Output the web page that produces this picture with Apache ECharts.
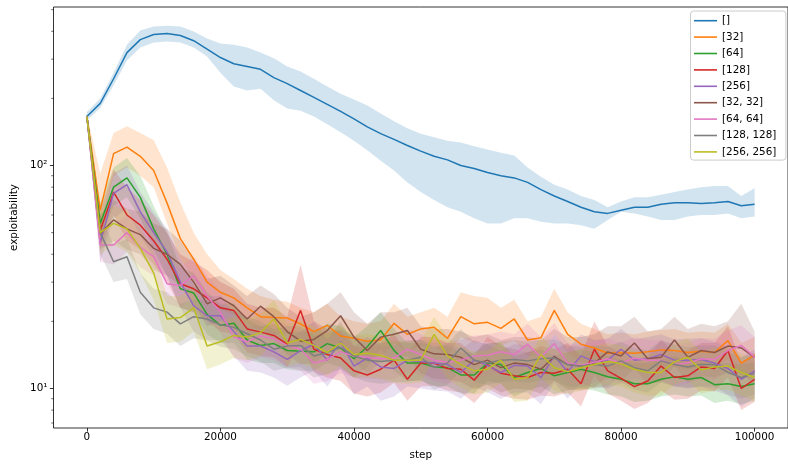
<!DOCTYPE html>
<html><head><meta charset="utf-8">
<script src="https://cdn.jsdelivr.net/npm/echarts@6/dist/echarts.min.js"></script>
<style>html,body{margin:0;padding:0;background:#fff}#c{width:788px;height:466px}</style>
</head><body><div id="c"></div>
<script>
const steps = [0,2000,4000,6000,8000,10000,12000,14000,16000,18000,20000,22000,24000,26000,28000,30000,32000,34000,36000,38000,40000,42000,44000,46000,48000,50000,52000,54000,56000,58000,60000,62000,64000,66000,68000,70000,72000,74000,76000,78000,80000,82000,84000,86000,88000,90000,92000,94000,96000,98000,100000];
const xTicks = [0,20000,40000,60000,80000,100000];
const yMajor = [10,100];
const yMinor = [7,8,9,20,30,40,50,60,70,80,90,200,300,400,500];
const names = ['[]','[32]','[64]','[128]','[256]','[32, 32]','[64, 64]','[128, 128]','[256, 256]'];
const colors = ['#1f77b4','#ff7f0e','#2ca02c','#d62728','#9467bd','#8c564b','#e377c2','#7f7f7f','#bcbd22'];

const meanE = [166,190,245,321,367,387,391,383,363,333,305,286,278,270,248,233,217,202,188,175,162,149,139,131,123,116,110,106,100,97,93,90,88,84,78,73,69,65,62,61,63,65,65,67,68,68,67.5,68,69,66,67];
const hiE = [174,200,261,348,403,420,424,420,399,371,353,348,338,321,303,278,264,245,226,210,198,186,171,158,147,139,134,129,127,122,118,114,111,98,89,82,78,73,70,65,69,72,72,74,76,78,80,81,81,73,79];
const loE = [159,181,229,296,338,356,360,356,338,308,261,226,217,221,196,180,176,166,153,141,129,117,105,95,84,76,70,65,62,58,55,55,58,58,56,55,55,54,52,57,62,61,59,57,57,59,60,60,61,58,59];

const mean32 = [166,63,113,121,110,95,68,47,38,30,27,25.5,23,21,20.8,20.7,19.5,18,19.2,17.2,16.8,16.3,16.5,19.6,17.5,18.5,18.8,16.8,21,19.5,19.8,18.6,20.5,16.5,16.9,22.4,17.5,15.8,15.2,14.4,14.5,14.4,14.6,14.9,14.8,14.5,14.7,14.5,16.4,13,14.1];
const hi32 = [170,92,140,150,140,130,98,68,50,40,34,31,28,26,25,24.5,23,22,24,21,20,19.5,20,24,21,22,23,21,27,26,25.5,23,25,20,21,28,22,19.5,18.5,17.5,17.8,17.5,18,18.3,18.5,17.8,18,17.8,19.5,16,17];
const lo32 = [162,52,90,98,90,80,55,38,31,25,22.5,21.5,19.5,18,17.5,17.5,16.5,15.2,16,14.5,14.2,13.8,14,16,14.8,15.5,15.5,14,17,16,16.2,15.5,16.5,14,14.2,17.5,14.5,13.2,12.8,12.2,12.3,12.2,12.3,12.5,12.5,12.2,12.5,12.2,13.5,11,11.8];

const mean64 = [166,55,80,88,72,52,40,28,26.8,21.5,19.2,19.6,16.5,15.6,15.9,14.8,14.7,14.6,15.9,15.2,13.6,15.4,18.2,14.8,13,13,12.5,12.4,11.5,11.5,13,12.8,11.2,11.8,12.3,11.4,11.8,12.2,11.8,11.3,11,10.5,10.5,11,11.3,11,11.2,10.4,10.5,10.2,10.5];
const hi64 = [170,68,98,108,90,66,50,35,33,27,24,24,20.5,19,19.5,18,18,18,19.5,19,17,19,22,18.5,16,16,15.5,15.5,14.5,14.5,16,16,14,14.5,15,14,14.5,15,14.5,14,13.5,13,13,13.5,14,13.5,13.8,13,13,12.8,13];
const lo64 = [162,46,66,72,58,42,32,23,22,17.5,16,16,13.5,13,13,12.2,12,12,13,12.5,11.2,12.5,15,12,10.8,10.8,10.3,10.2,9.5,9.5,10.8,10.5,9.2,9.8,10.2,9.4,9.8,10,9.8,9.4,9.2,8.7,8.8,9.2,9.4,9.2,9.3,8.6,8.8,8.5,8.8];

const mean128 = [166,51,76,60,54,46,38,29.5,28,25.5,23,22.4,18.5,17.9,17.3,15.8,22.4,15,14.2,13.7,12,11.5,12.2,13.4,11,13,13,12.3,12.2,10.9,12.8,11.7,11.4,11.2,11.8,11.7,12.2,10.5,15,12,11.1,10.2,10.8,12.6,11.2,11.4,12.5,12.3,14.8,10,11];
const hi128 = [170,62,96,80,70,60,50,40,37,34,30,28,24,23,23,21,36,20,18.5,18,15.5,15,16,17.5,14.5,17,17,16,16,14,17,15.5,15,14.5,15.5,15,16,14,20,15.5,14.5,13.5,14,16.5,14.5,14.8,16,16,19,13,14.5];
const lo128 = [162,42,60,46,42,36,30,23,22,20,18,17.5,14.5,14,13.8,12.5,16,11.8,11.2,10.8,9.5,9.2,9.6,10.6,8.8,10.2,10.3,9.8,9.6,8.6,10,9.3,9,8.9,9.3,9.2,9.6,8.3,11.5,9.5,8.8,8.1,8.6,9.8,8.9,9,9.8,9.7,11.2,8,8.7];

const mean256 = [166,45,75,82,62,50,41,30,23.5,21.2,21.2,18,15.5,15.5,14.6,13.5,14.8,15.8,13.4,16.2,12.6,13.7,12.5,12.3,13.4,13.2,13,12.8,11.8,13.4,12.7,11.8,12.7,12.6,11.2,14,11.9,14,13.2,13.4,15,13.4,13.6,14.2,13.4,13.4,13.5,13,12.3,11,12];
const hi256 = [170,55,92,100,76,62,52,38,29,26,26,22,19,19,18,16.5,18,20,16.5,20,15.5,17,15.5,15.5,16.5,16.5,16,16,15,16.5,15.8,14.8,15.8,15.6,14,17.5,15,17.5,16.5,16.7,18.5,16.6,17,17.5,16.6,16.7,16.8,16.2,15.3,13.8,15];
const lo256 = [162,37,58,64,48,39,32,23,18,16.5,16.5,14,12,11.8,11.2,10.3,11.2,12,10.2,12.3,9.4,10.2,8.8,9.2,10.2,10,9.8,9.7,9,10.2,9.6,9,9.6,9.6,8.5,10.6,9,10.6,10,10.2,11.4,10.2,10.4,10.8,10.2,10.1,10.2,9.8,9.3,8.3,9.1];

const mean32x32 = [166,49.5,57,52,49,42.5,40,36,30,24,25.5,23.5,20.5,23.4,21,18,16.3,16.6,18.2,21.2,17,14.8,17,17.5,18.2,15,14.3,14.2,13.8,12.8,13.4,12.4,13,12.8,12.2,13.9,12.8,12.6,13,14.6,14,16,13.6,13.8,16.5,13.8,14.8,14.5,15.5,15.2,13.8];
const hi32x32 = [170,60,70,64,62,55,52,46,38,31,32,29,26,29,26.5,23,21,22,24,27,22,19.5,22,22,23,19,18.5,18.5,18,17,17.5,16.5,17,17,16.5,18.5,17,17,17.5,19,19,21,18,18.5,21,18.5,19.5,19,20,24,18];
const lo32x32 = [162,42,46,42,40,34,32,29,24,19,20,18.5,16.3,18.5,16.5,14.2,12.8,13,14.3,16.5,13.2,11.6,13.2,13.7,14,11.7,11.1,11,10.7,9.9,10.4,9.6,10,9.9,9.5,10.8,9.9,9.8,10.1,11.3,10.8,12.3,10.5,10.7,12.6,10.6,11.4,11.2,11.8,11.6,10.5];

const mean64x64 = [166,44,44,50,43,39,29.5,29,32,26,22,17,16.2,17.2,16.7,15.6,15,13,13.5,14.6,14,13.8,13.6,13.7,15,14.2,13.4,13.1,13.4,14,14.1,14.6,14.2,15.8,13.8,15.9,13,12.7,13.1,13.6,13,13.7,13.4,13.4,12.8,13,13.6,13.5,14.8,15.6,13.8];
const hi64x64 = [170,52,54,60,52,47,36,35,39,32,27,21,20,21,20.5,19.2,18.5,16.2,16.7,18,17.3,17,16.8,17,18.5,17.5,16.5,16.2,16.5,17.3,17.4,18,17.5,19.5,17,19.6,16,15.7,16.2,16.8,16,17,16.5,16.5,15.8,16,16.8,16.7,18.2,19.2,17];
const lo64x64 = [162,37,36,41,35,32,24,23,26,21,17.8,13.7,13,13.8,13.4,12.5,12,10.5,10.8,11.7,11.2,11.1,11,11,12,11.4,10.8,10.5,10.8,11.3,11.4,11.8,11.4,12.7,11.1,12.8,10.5,10.3,10.6,11,10.5,11.1,10.8,10.8,10.3,10.5,11,10.9,12,12.6,11.1];

const mean128x128 = [166,50,37,39,27,23,22,19.5,21,20.5,19.3,18.8,17.6,16.5,15,15.5,15.6,14,14.5,15.3,14,13.4,13.2,13.4,13.4,13.8,12.4,13,15.2,13.4,13,13.4,13.5,13.3,13.6,13.7,12.8,12.6,12.8,12.6,13.3,12.4,12,13.3,12.8,12.5,12.8,12.8,11.8,11.2,11.7];
const hi128x128 = [170,60,44,47,33,28,27,24,25,25,23.5,22.5,21,20,18.5,19,19,17.2,17.6,18.5,17,16.3,16,16.3,16.2,16.6,15.2,15.8,18.5,16.2,15.8,16.3,16.5,16.2,16.5,16.6,15.6,15.4,15.6,15.4,16.2,15.2,14.8,16.4,15.7,15.3,15.6,15.6,14.5,13.8,14.4];
const lo128x128 = [162,40,30,31,21.5,18.5,17.6,15.5,16.8,16.4,15.4,15,14,13.2,12,12.4,12.5,11.2,11.6,12.2,11.2,10.7,10.5,10.7,10.7,11,9.9,10.4,12.1,10.7,10.4,10.7,10.8,10.6,10.9,10.9,10.2,10.1,10.2,10,10.6,9.9,9.6,10.6,10.2,10,10.2,10.2,9.4,9,9.4];

const mean256x256 = [166,50,55,52,42.5,33,20.5,20.8,23,15.5,16.2,17.3,17,17.8,20.5,16,16.6,15.6,14.5,16,14.2,14.4,14.1,13.4,13.4,13.4,17.5,14,12.8,12,12.2,13.4,11,11.2,14.2,12.4,11.9,12.4,12.8,13.2,12.9,12.2,11.8,11.8,13.2,13.8,12.1,12.5,12.6,11.8,11.2];
const hi256x256 = [170,62,66,63,52,41,26,26,29,19.5,20,21,20.5,21.5,25,19.5,20,19,17.5,19.5,17.2,17.5,17,16.2,16.3,16.3,21,17,15.5,14.6,14.8,16.2,13.4,13.6,17.2,15,14.5,15,15.5,16,15.6,14.8,14.3,14.3,16,16.7,14.7,15.2,15.3,14.3,13.6];
const lo256x256 = [162,40,44,41,33,25,16,16.2,18,12.2,12.8,13.7,13.4,14,16.2,12.6,13,12.3,11.4,12.6,11.2,11.3,11.1,10.6,10.5,10.6,13.8,11,10.1,9.4,9.6,10.6,8.7,8.8,11.2,9.8,9.4,9.8,10.1,10.4,10.2,9.6,9.3,9.3,10.4,10.9,9.5,9.8,9.9,9.3,8.8];

const means = [meanE, mean32, mean64, mean128, mean256, mean32x32, mean64x64, mean128x128, mean256x256];
const his = [hiE, hi32, hi64, hi128, hi256, hi32x32, hi64x64, hi128x128, hi256x256];
const los = [loE, lo32, lo64, lo128, lo256, lo32x32, lo64x64, lo128x128, lo256x256];

const FONT = 'DejaVu Sans';
const XMIN = -5000, XMAX = 105000;
const YMIN = 6.65, YMAX = 514;
const SUP = {'0':'\u2070','1':'\u00b9','2':'\u00b2','3':'\u00b3'};

function bandSeries(lo, hi, color) {
  return {
    type: 'custom', coordinateSystem: 'cartesian2d', silent: true,
    xAxisIndex: 0, yAxisIndex: 0,
    data: [[steps[0], lo[0]]],
    renderItem: function (params, api) {
      const pts = [];
      for (let i = 0; i < steps.length; i++) pts.push(api.coord([steps[i], hi[i]]));
      for (let i = steps.length - 1; i >= 0; i--) pts.push(api.coord([steps[i], lo[i]]));
      return { type: 'polygon', shape: { points: pts }, style: { fill: color, opacity: 0.2 } };
    }
  };
}

const series = [];
for (let s = 0; s < names.length; s++) {
  series.push({
    name: names[s], type: 'line', xAxisIndex: 0, yAxisIndex: 0,
    data: steps.map((x, i) => [x, means[s][i]]),
    showSymbol: false, symbol: 'none', color: colors[s],
    lineStyle: { width: 1.5, color: colors[s] }
  });
  series.push(bandSeries(los[s], his[s], colors[s]));
}
// minor log ticks on the y axis, positioned by the axis scale
series.push({
  type: 'custom', coordinateSystem: 'cartesian2d', silent: true, clip: false,
  xAxisIndex: 0, yAxisIndex: 0,
  data: yMinor.map(v => [XMIN, v]),
  renderItem: function (params, api) {
    const c = api.coord([api.value(0), api.value(1)]);
    return { type: 'line', shape: { x1: c[0] - 2.2, y1: c[1], x2: c[0], y2: c[1] },
      style: { stroke: '#000', lineWidth: 0.6 } };
  }
});

function logLabel(v) {
  const l = Math.log10(v);
  const e = Math.round(l);
  if (Math.abs(l - e) < 1e-3 && (e === 1 || e === 2)) return '10' + SUP[e];
  return '';
}

const chart = echarts.init(document.getElementById('c'), null, { renderer: 'canvas' });
chart.setOption({
  animation: false,
  backgroundColor: '#fff',
  textStyle: { fontFamily: FONT },
  grid: { left: 53.5, top: 7, right: -5.5, bottom: 38, show: true, borderColor: '#000', borderWidth: 0.8, backgroundColor: 'transparent' },
  legend: {
    data: names, left: 690.5, top: 11, orient: 'vertical',
    icon: 'rect', itemWidth: 23, itemHeight: 1.6, itemGap: 0,
    padding: [1.5, 9.5, 0, 3.5],
    textStyle: { fontFamily: FONT, fontSize: 10.4, color: '#000', lineHeight: 16.4 },
    backgroundColor: 'rgba(255,255,255,0.8)', borderColor: '#cccccc', borderWidth: 1, borderRadius: 3
  },
  xAxis: [{
    type: 'value', min: XMIN, max: XMAX,
    name: 'step', nameLocation: 'middle', nameGap: 22,
    nameTextStyle: { fontFamily: FONT, fontSize: 10.4, color: '#000' },
    axisLine: { show: false, onZero: false },
    splitLine: { show: false },
    axisTick: { show: true, length: 3.6, lineStyle: { color: '#000', width: 0.8 }, customValues: xTicks },
    axisLabel: { show: true, margin: 4, fontFamily: FONT, fontSize: 10.4, color: '#000', customValues: xTicks,
      formatter: v => String(v) }
  }],
  yAxis: [{
    type: 'log', logBase: 10, min: YMIN, max: YMAX, position: 'left',
    name: 'exploitability', nameLocation: 'middle', nameGap: 28,
    nameTextStyle: { fontFamily: FONT, fontSize: 10.4, color: '#000' },
    axisLine: { show: false, onZero: false },
    splitLine: { show: false },
    axisTick: { show: true, length: 3.6, lineStyle: { color: '#000', width: 0.8 }, customValues: yMajor },
    axisLabel: { show: true, margin: 6, fontFamily: FONT, fontSize: 10.4, color: '#000', customValues: yMajor,
      formatter: logLabel }
  }],
  series: series
});
</script>
</body></html>
